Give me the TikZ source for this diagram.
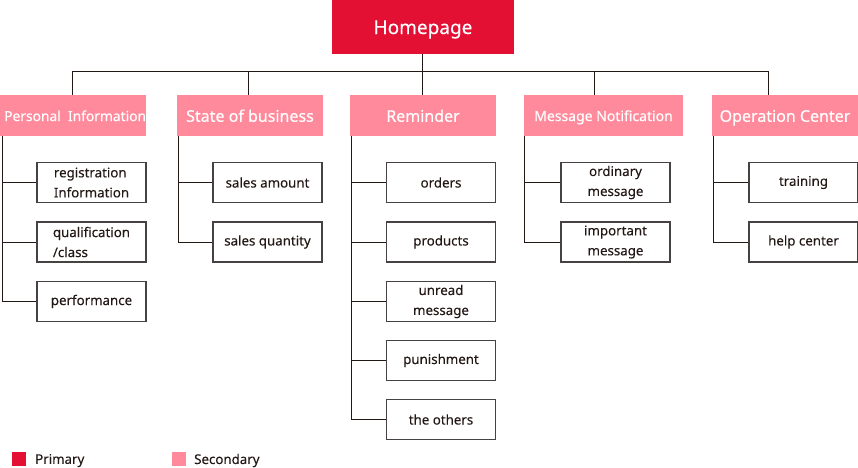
\documentclass[tikz,border=0pt]{standalone}
\usepackage{fontspec}
\setmainfont{Noto Sans}
\newfontfamily\medfont[FakeBold=0.35]{Noto Sans}
\newfontfamily\regfont[FakeBold=0.15]{Noto Sans}
\definecolor{primc}{RGB}{227,16,52}
\definecolor{secc}{RGB}{255,138,155}
\definecolor{linec}{RGB}{35,24,21}
\definecolor{boxc}{RGB}{70,66,66}
\begin{document}
\begin{tikzpicture}[x=1pt,y=-1pt,
  prim/.style={rectangle, fill=primc, text=white, inner sep=0pt, minimum width=182pt, minimum height=54pt, text height=14pt, text depth=0pt, font=\medfont\fontsize{19}{22}\selectfont},
  sec/.style={rectangle, fill=secc, text=white, inner sep=0pt, minimum height=41pt, minimum width=146pt, text height=12.5pt, text depth=0pt, font=\medfont\fontsize{16}{19}\selectfont},
  child/.style={rectangle, draw=boxc, line width=1.3pt, text=linec, inner sep=0pt, minimum width=109pt, minimum height=40pt, align=center, font=\regfont\fontsize{13.3}{20}\selectfont},
  conn/.style={draw=linec, line width=1pt},
  legtext/.style={text=linec, anchor=west, inner sep=0pt, font=\regfont\fontsize{13.3}{16}\selectfont}]
\useasboundingbox (0,0) rectangle (858,467);

% top
\node[prim] (home) at (423,27) {Homepage};

% secondary
\node[sec] (pi) at (73,115.5) {};
\begin{scope}
\clip (pi.south west) rectangle (pi.north east);
\node[anchor=west, text=white, inner sep=0pt, text height=11pt, text depth=0pt, font=\medfont\fontsize{13.8}{16}\selectfont] (pit) at (4,115.5) {Personal\ \ Information};
\end{scope}
\node[sec] (sb) at (250,115.5) {State of business};
\node[sec] (rm) at (423,115.5) {Reminder};
\node[sec, minimum width=159pt, text height=11pt, font=\medfont\fontsize{14}{17}\selectfont] (mn) at (603.5,115.5) {Message Notification};
\node[sec] (oc) at (785,115.5) {Operation Center};

% bus
\coordinate (b1) at (72,71);
\coordinate (b2) at (248,71);
\coordinate (b3) at (422,71);
\coordinate (b4) at (594,71);
\coordinate (b5) at (768,71);
\draw[conn] (home.south -| b3) -- (b3 |- rm.north);
\draw[conn] (b1) -- (b5);
\draw[conn] (b1) -- (b1 |- pi.north);
\draw[conn] (b2) -- (b2 |- sb.north);
\draw[conn] (b4) -- (b4 |- mn.north);
\draw[conn] (b5) -- (b5 |- oc.north);

% column 1
\node[child, align=left] (c11) at (91.5,182.5) {registration\\Information};
\node[child, align=left] (c12) at (91.5,242) {qualification\\/class};
\node[child] (c13) at (91.5,301.5) {performance};
\coordinate (s1) at (2,136);
\draw[conn] (s1) |- (c13.west);
\draw[conn] (c11.west) -- (c11.west -| s1);
\draw[conn] (c12.west) -- (c12.west -| s1);

% column 2
\node[child] (c21) at (267.5,182.5) {sales amount};
\node[child] (c22) at (267.5,242) {sales quantity};
\coordinate (s2) at (178,136);
\draw[conn] (s2) |- (c22.west);
\draw[conn] (c21.west) -- (c21.west -| s2);

% column 3
\node[child] (c31) at (441,182.5) {orders};
\node[child] (c32) at (441,242) {products};
\node[child] (c33) at (441,301.5) {unread\\message};
\node[child] (c34) at (441,360.5) {punishment};
\node[child] (c35) at (441,419.5) {the others};
\coordinate (s3) at (351,136);
\draw[conn] (s3) |- (c35.west);
\draw[conn] (c31.west) -- (c31.west -| s3);
\draw[conn] (c32.west) -- (c32.west -| s3);
\draw[conn] (c33.west) -- (c33.west -| s3);
\draw[conn] (c34.west) -- (c34.west -| s3);

% column 4
\node[child] (c41) at (615.5,182.5) {ordinary\\message};
\node[child] (c42) at (615.5,242) {important\\message};
\coordinate (s4) at (524,136);
\draw[conn] (s4) |- (c42.west);
\draw[conn] (c41.west) -- (c41.west -| s4);

% column 5
\node[child] (c51) at (803.5,182.5) {training};
\node[child] (c52) at (803.5,242) {help center};
\coordinate (s5) at (713,136);
\draw[conn] (s5) |- (c52.west);
\draw[conn] (c51.west) -- (c51.west -| s5);

% legend
\node[rectangle, fill=primc, minimum size=14pt, inner sep=0pt] (lp) at (19,458.5) {};
\node[legtext] (lpt) at (35,460.5) {Primary};
\node[rectangle, fill=secc, minimum size=14pt, inner sep=0pt] (ls) at (179,458.5) {};
\node[legtext] (lst) at (194,460.5) {Secondary};
\end{tikzpicture}
\end{document}
